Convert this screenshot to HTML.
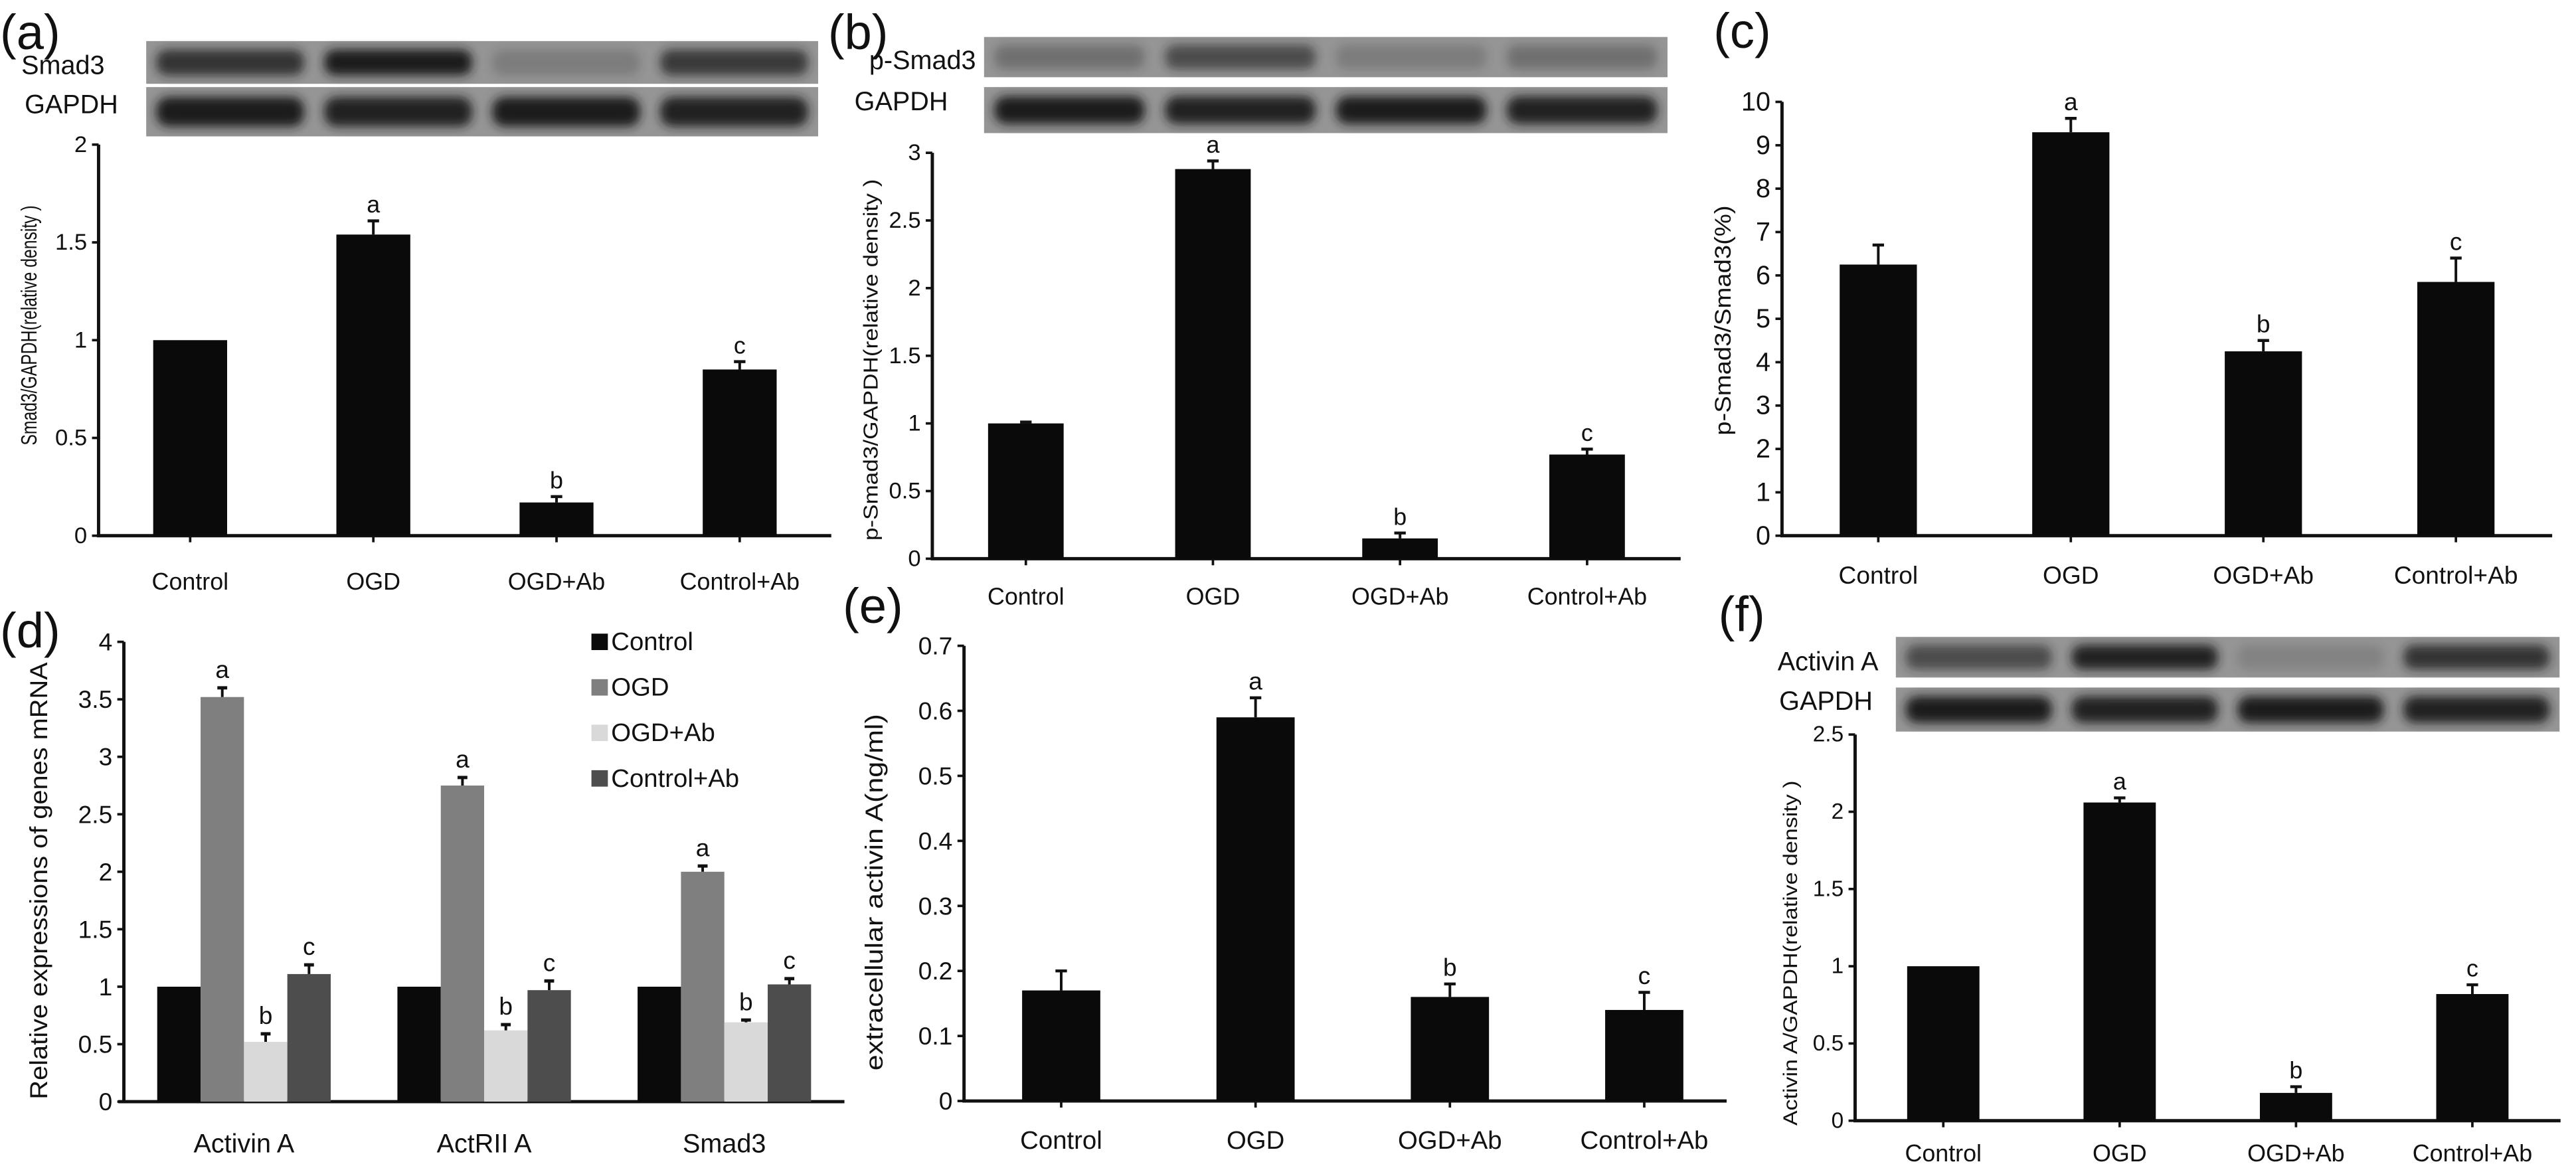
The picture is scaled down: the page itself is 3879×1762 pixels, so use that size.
<!DOCTYPE html>
<html><head><meta charset="utf-8"><style>
html,body{margin:0;padding:0;background:#fff}
svg{display:block}
text{font-family:"Liberation Sans",Arial,sans-serif;fill:#111}
</style></head><body>
<svg id="fig" width="3879" height="1762" viewBox="0 0 1568 712" preserveAspectRatio="none" xmlns="http://www.w3.org/2000/svg">
<defs><filter id="blur" x="-20%" y="-50%" width="140%" height="200%"><feGaussianBlur stdDeviation="3"/></filter></defs>
<rect x="0" y="0" width="1568" height="712" fill="#fff"/>
</svg>
<script>
const cats = ["Control","OGD","OGD+Ab","Control+Ab"];
const sigs = ["","a","b","c"];
const valsA = [1, 1.54, 0.17, 0.85];
const errA = [0, 0.07, 0.03, 0.04];
const valsB = [1, 2.88, 0.15, 0.77];
const errB = [0.01, 0.06, 0.04, 0.04];
const valsC = [6.25, 9.3, 4.25, 5.85];
const errC = [0.45, 0.32, 0.25, 0.55];
const valsE = [0.17, 0.59, 0.16, 0.14];
const errE = [0.03, 0.03, 0.02, 0.027];
const valsF = [1, 2.06, 0.18, 0.82];
const errF = [0, 0.03, 0.04, 0.06];
const ticksA = ["0","0.5","1","1.5","2"];
const ticksB = ["0","0.5","1","1.5","2","2.5","3"];
const ticksC = ["0","1","2","3","4","5","6","7","8","9","10"];
const ticksD = ["0","0.5","1","1.5","2","2.5","3","3.5","4"];
const ticksE = ["0","0.1","0.2","0.3","0.4","0.5","0.6","0.7"];
const ticksF = ["0","0.5","1","1.5","2","2.5"];
const genes = ["Activin A","ActRII A","Smad3"];
const seriesNames = ["Control","OGD","OGD+Ab","Control+Ab"];
const dControl = [1, 1, 1];
const dOGD = [3.52, 2.75, 2.0];
const dOGDAb = [0.52, 0.62, 0.69];
const dControlAb = [1.11, 0.97, 1.02];
const dErrOGD = [0.08, 0.07, 0.05];
const dErrOGDAb = [0.07, 0.05, 0.02];
const dErrControlAb = [0.08, 0.08, 0.05];
const dSigs = ["", "a", "b", "c"];
const bandsA = [0.8, 1.0, 0.2, 0.75];
const bandsB = [0.3, 0.6, 0.2, 0.3];
const bandsF = [0.6, 0.95, 0.15, 0.8];
const bandsG = [1.0, 0.95, 1.0, 0.95];

const svg = document.getElementById('fig');
const NS = 'http://www.w3.org/2000/svg';
function el(tag, attrs, parent){ const e=document.createElementNS(NS,tag); for(const k in attrs) e.setAttribute(k,attrs[k]); (parent||svg).appendChild(e); return e; }
function txt(s, attrs, parent){ const t=el('text',attrs,parent); t.textContent=s; return t; }

function panelLabel(s,x,y,fs){
  const t=txt(s,{x:x,y:y,'font-size':fs});
  
  
}

function blot(g, x, y, w, h, intens, name){
  const grp=el('g',{},g);
  
  
  el('rect',{x:x,y:y,width:w,height:h,fill:'#959595'},grp);
  const lw=w/4;
  intens.forEach((v,i)=>{
    el('rect',{x:x+i*lw+lw*0.06,y:y+h*0.2,width:lw*0.88,height:h*0.6,rx:h*0.25,fill:'#1a1a1a',opacity:v,filter:'url(#blur)'},grp);
  });
}

function barPanel(c){
  const g=el('g',{});
  
  
  const yS = v => c.y0 - (v/c.max)*(c.y0-c.yTop);
  const step=(c.x1-c.x0)/c.vals.length;
  const xC = i => c.x0 + step*(i+0.5);
  const ya=el('line',{x1:c.x0,y1:c.yTop,x2:c.x0,y2:c.y0,stroke:'#111','stroke-width':2},g);
   
  const xa=el('line',{x1:c.x0-1,y1:c.y0,x2:c.axEnd,y2:c.y0,stroke:'#111','stroke-width':2},g);
   
  c.ticks.forEach((t,i)=>{
    const v=parseFloat(t); const y=yS(v);
    el('line',{x1:c.x0-4,y1:y,x2:c.x0,y2:y,stroke:'#111','stroke-width':1.5},g);
    const tl=txt(t,{x:c.x0-7,y:y,'font-size':c.tfs,'text-anchor':'end','dominant-baseline':'central'},g);
     
  });
  c.vals.forEach((v,i)=>{
    const cx=xC(i);
    const b=el('rect',{x:cx-c.bw/2,y:yS(v),width:c.bw,height:c.y0-yS(v),fill:'#0a0a0a'},g);
    
    
    const top=yS(v+c.errs[i]);
    if(c.errs[i]>0){
      el('line',{x1:cx,y1:yS(v),x2:cx,y2:top,stroke:'#111','stroke-width':1.6},g);
      el('line',{x1:cx-3.5,y1:top,x2:cx+3.5,y2:top,stroke:'#111','stroke-width':1.8},g);
    }
    if(sigs[i]){
      const s=txt(sigs[i],{x:cx,y:top-5,'font-size':c.sfs,'text-anchor':'middle'},g);
       
    }
    el('line',{x1:cx,y1:c.y0,x2:cx,y2:c.y0+4,stroke:'#111','stroke-width':1.5},g);
    const cl=txt(cats[i],{x:cx,y:c.catY,'font-size':c.cfs,'text-anchor':'middle','dominant-baseline':'central'},g);
     
  });
  const yt=txt(c.title,{x:0,y:0,'font-size':c.yfs,'text-anchor':'middle','dominant-baseline':'central',
    transform:`translate(${c.tx},${c.ty}) rotate(-90)`,textLength:c.tl,lengthAdjust:'spacingAndGlyphs'},g);
   
  return g;
}

panelLabel('(a)',0,30,30);
const ga=barPanel({name:'panel-a-smad3-chart',vals:valsA,errs:errA,ticks:ticksA,max:2,x0:60,x1:506,axEnd:506,y0:326,yTop:88,bw:45,tfs:14,cfs:14.5,sfs:14.5,catY:354,title:'Smad3/GAPDH(relative density )',tx:18,ty:198,tl:146,yfs:13.5});
blot(ga,89,25,409,26,bandsA,'smad3-blot');
blot(ga,89,53,409,30,bandsG,'gapdh-blot-a');
txt('Smad3',{x:13,y:45,'font-size':16});
txt('GAPDH',{x:15,y:69,'font-size':16});

panelLabel('(b)',504,30,30);
const gb=barPanel({name:'panel-b-psmad3-chart',vals:valsB,errs:errB,ticks:ticksB,max:3,x0:567.5,x1:1023,axEnd:1023,y0:340,yTop:93,bw:46,tfs:14,cfs:14.5,sfs:14.5,catY:363,title:'p-Smad3/GAPDH(relative density )',tx:530,ty:219,tl:220,yfs:12.5});
blot(gb,599,22.5,416,24.5,bandsB,'psmad3-blot');
blot(gb,599,53,416,28,bandsG,'gapdh-blot-b');
txt('p-Smad3',{x:594,y:42,'font-size':16,'text-anchor':'end'});
txt('GAPDH',{x:577,y:67,'font-size':16,'text-anchor':'end'});

panelLabel('(c)',1043,29,30);
barPanel({name:'panel-c-ratio-chart',vals:valsC,errs:errC,ticks:ticksC,max:10,x0:1084.7,x1:1553.5,axEnd:1553.5,y0:326,yTop:62,bw:47,tfs:16,cfs:15,sfs:15,catY:350,title:'p-Smad3/Smad3(%)',tx:1049,ty:195,tl:140,yfs:14});

panelLabel('(e)',513,379,30);
barPanel({name:'panel-e-extracellular-chart',vals:valsE,errs:errE,ticks:ticksE,max:0.7,x0:586.8,x1:1060,axEnd:1051,y0:670,yTop:393,bw:47.6,tfs:15,cfs:15.5,sfs:15,catY:694,title:'extracellular activin A(ng/ml)',tx:532,ty:543,tl:217,yfs:15});

panelLabel('(f)',1046,384,30);
const gf=barPanel({name:'panel-f-activin-chart',vals:valsF,errs:errF,ticks:ticksF,max:2.5,x0:1129.2,x1:1558.6,axEnd:1558.6,y0:682,yTop:447,bw:44,tfs:13.5,cfs:14.5,sfs:14.5,catY:702,title:'Activin A/GAPDH(relative density )',tx:1090,ty:580,tl:210,yfs:12});
blot(gf,1154,387.6,404,24.7,bandsF,'activin-blot');
blot(gf,1154,418.4,404,26.8,bandsG,'gapdh-blot-f');
txt('Activin A',{x:1082,y:408,'font-size':16});
txt('GAPDH',{x:1083,y:432,'font-size':16});

panelLabel('(d)',0,394,30);
(function(){
  const g=el('g',{});
  
  
  const x0=75.4, x1=514, y0=670.4, yTop=390.6, max=4, bw=26.4;
  const yS=v=>y0-(v/max)*(y0-yTop);
  const gstep=(x1-x0)/genes.length;
  const series=[dControl,dOGD,dOGDAb,dControlAb];
  const errs=[null,dErrOGD,dErrOGDAb,dErrControlAb];
  const colors=['#0a0a0a','#7f7f7f','#d9d9d9','#4d4d4d'];
  el('line',{x1:x0,y1:yTop,x2:x0,y2:y0,stroke:'#111','stroke-width':2},g);
  el('line',{x1:72,y1:y0,x2:x1,y2:y0,stroke:'#111','stroke-width':2},g);
  ticksD.forEach(t=>{
    const y=yS(parseFloat(t));
    el('line',{x1:x0-4,y1:y,x2:x0,y2:y,stroke:'#111','stroke-width':1.5},g);
    const tl=txt(t,{x:x0-7,y:y,'font-size':15,'text-anchor':'end','dominant-baseline':'central'},g);
    
    
  });
  genes.forEach((gn,gi)=>{
    const gc=x0+gstep*(gi+0.5);
    series.forEach((s,si)=>{
      const bx=gc-2*bw+si*bw;
      const v=s[gi];
      const b=el('rect',{x:bx,y:yS(v),width:bw,height:y0-yS(v),fill:colors[si]},g);
      
      
      let top=yS(v);
      if(errs[si]){
        top=yS(v+errs[si][gi]);
        const cx=bx+bw/2;
        el('line',{x1:cx,y1:yS(v),x2:cx,y2:top,stroke:'#111','stroke-width':1.6},g);
        el('line',{x1:cx-3,y1:top,x2:cx+3,y2:top,stroke:'#111','stroke-width':2},g);
      }
      if(dSigs[si]){
        const s2=txt(dSigs[si],{x:bx+bw/2,y:top-6,'font-size':15,'text-anchor':'middle'},g);
        
        
      }
    });
    const cl=txt(gn,{x:gc,y:696,'font-size':16,'text-anchor':'middle','dominant-baseline':'central'},g);
    
    
  });
  const lg=el('g',{},g);
  
  
  seriesNames.forEach((n,i)=>{
    const y=390.6+i*27.7;
    const sw=el('rect',{x:360,y:y-5,width:10,height:10,fill:colors[i]},lg);
    
    
    const t=txt(n,{x:372,y:y,'font-size':15.5,'dominant-baseline':'central'},lg);
    
    
  });
  const yt=txt('Relative expressions of genes mRNA',{x:0,y:0,'font-size':15,'text-anchor':'middle','dominant-baseline':'central',transform:'translate(23.5,536) rotate(-90)',textLength:266,lengthAdjust:'spacingAndGlyphs'},g);
  
  
})();
</script>
</body></html>
